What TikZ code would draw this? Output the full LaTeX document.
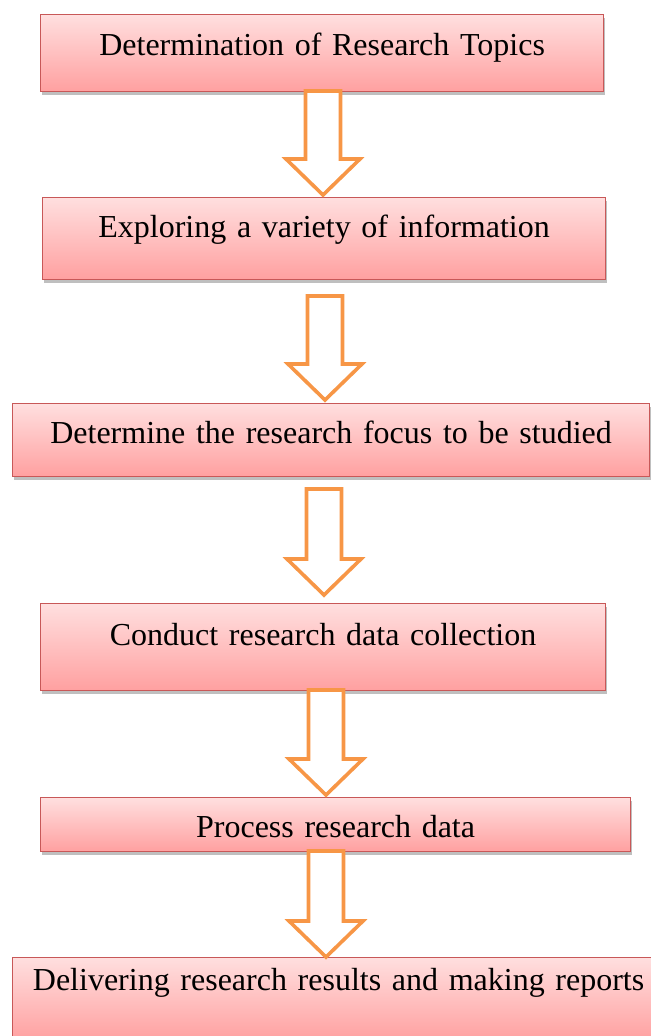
\documentclass[tikz,border=0pt]{standalone}
\usepackage{fontspec}
\setmainfont{Liberation Serif}[WordSpace=0.75]
\usetikzlibrary{calc}
\usetikzlibrary{shadows}
\definecolor{boxtop}{RGB}{255,223,223}
\definecolor{boxbot}{RGB}{255,160,160}
\definecolor{boxline}{RGB}{200,88,88}
\definecolor{arrline}{RGB}{247,150,70}
\tikzset{
    stepbox/.style = {rectangle, draw=boxline, line width=0.6pt, top color=boxtop, bottom color=boxbot,
        inner sep=0pt, align=center, anchor=north west, font=\fontsize{16}{19}\selectfont,
        drop shadow={shadow xshift=0.6pt, shadow yshift=-1.6pt, fill=black, opacity=0.25}},
    blockarr/.style = {draw=arrline, line width=1.8pt, fill=white, miter limit=20},
}
% block arrow between two named coordinates (shaft top, tip)
\newcommand{\blockarrow}[2]{%
  \draw[blockarr] let \p1=(#1), \p2=(#2) in
    (\x1-8.75pt,\y1) -- (\x1+8.75pt,\y1) -- (\x1+8.75pt,\y2+18pt) -- (\x1+18.5pt,\y2+18pt)
    -- (\x2,\y2) -- (\x1-18.5pt,\y2+18pt) -- (\x1-8.75pt,\y2+18pt) -- cycle;}

\begin{document}
\begin{tikzpicture}[x=0.5pt,y=-0.5pt]
\useasboundingbox (0,0) rectangle (651,1036);
\node[stepbox, text width=281.5pt, text height=20.5pt, text depth=18pt] at (40,14) (b1) {Determination of Research Topics};
\node[stepbox, text width=281.5pt, text height=20pt, text depth=21pt] at (42,197) (b2) {Exploring a variety of information};
\node[stepbox, text width=318.5pt, text height=20pt, text depth=16.5pt] at (12,403) (b3) {Determine the research focus to be studied};
\node[stepbox, text width=282.5pt, text height=21pt, text depth=22.5pt] at (40,603) (b4) {Conduct research data collection};
\node[stepbox, text width=295pt, text height=20pt, text depth=7pt] at (40,797) (b5) {Process research data};
\node[stepbox, text width=326pt, text height=16.5pt, text depth=25pt] at (12,957) (b6) {Delivering research results and making reports};
\coordinate (a1s) at (323,91);  \coordinate (a1e) at (323,195);
\coordinate (a2s) at (325,296); \coordinate (a2e) at (325,400);
\coordinate (a3s) at (324,489); \coordinate (a3e) at (324,595);
\coordinate (a4s) at (326,690); \coordinate (a4e) at (326,795);
\coordinate (a5s) at (326,851); \coordinate (a5e) at (326,957);
\blockarrow{a1s}{a1e}
\blockarrow{a2s}{a2e}
\blockarrow{a3s}{a3e}
\blockarrow{a4s}{a4e}
\blockarrow{a5s}{a5e}
\end{tikzpicture}
\end{document}
